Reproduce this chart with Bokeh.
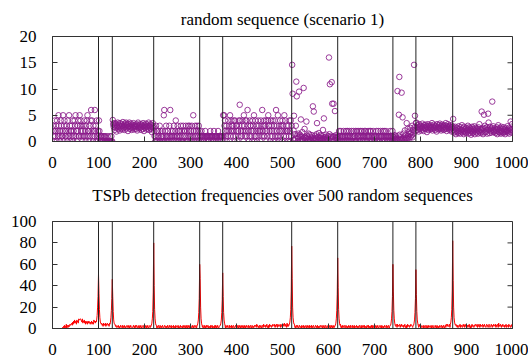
from bokeh.plotting import figure
from bokeh.layouts import column
from bokeh.models import FixedTicker, Span
from bokeh.embed import file_html
from bokeh.resources import INLINE

# ---------------- data ----------------
boundaries = [100, 130, 220, 320, 370, 520, 620, 740, 790, 870]

# top panel: symbol values per position (digits = integer values, pairs = tenths)
seg_001 = ("3120412304" "2153120431" "1250342112" "3041251302" "2314021435"
           "1202341153" "4213021341" "2031452120" "3146241032" "1623041021")
seg_101 = "420110101001100100010000100100"
seg_131 = ("41 33 28 35 22 30 26 34 19 31 27 36 24 29 32 21 35 28 25 33 "
           "30 23 37 26 31 28 22 34 29 36 25 32 27 20 33 29 36 24 30 27 "
           "34 22 31 28 26 35 23 30 27 32 29 24 33 21 30 36 26 28 31 25 "
           "33 27 22 32 29 24 35 28 20 31 26 30 34 23 28 32 25 29 36 22 "
           "30 27 33 24 31 18 28 35 26 29")
seg_221 = ("2101302012" "1030210120" "1560213010" "2103160121" "0213012401"
           "1302102130" "2013021203" "1020312310" "2130152013" "0213021302")
seg_321 = "11021110101211011010112101110120111011021101011110"
seg_371 = ("5153421302" "1423051243" "2314204132" "3021437412" "1342053214"
           "2416320143" "3120432501" "4213024132" "2043162314" "1324021453"
           "3201432140" "2341062315" "1032413204" "3215042132" "2031420413")
seg_521 = ("05 12 03 21 08 02 14 06 30 10 04 11 00 07 15 02 09 13 01 06 "
           "10 03 18 05 01 12 07 24 02 08 06 00 11 04 09 02 15 05 13 01 "
           "03 08 01 12 06 20 04 10 02 07 11 02 05 14 00 08 03 09 16 04 "
           "01 07 12 03 10 05 02 22 06 11 08 04 01 09 13 02 07 05 10 03 "
           "02 14 06 00 08 11 03 18 04 09 05 01 10 03 07 12 02 06 09 04")
seg_621 = ("1021012011" "0120110210" "2101201102" "1012011020" "0211021012"
           "1120101201" "2010121102" "1201012011" "0112010210" "1021101201"
           "2101210110" "1012011021")
seg_741 = ("03 08 01 12 05 00 10 06 02 09 04 11 07 01 13 03 08 05 18 02 "
           "10 06 15 03 09 21 04 12 07 16 05 24 11 08 19 06 14 26 09 17 "
           "12 30 08 22 15 10 27 13 20 35")
seg_791 = ("36 28 22 31 25 19 33 27 24 30 21 29 26 34 23 28 20 31 27 25 "
           "32 24 29 18 27 33 22 30 26 28 23 31 27 25 35 21 28 24 32 26 "
           "29 22 30 27 19 33 25 28 23 31 26 34 24 29 21 27 32 25 30 22 "
           "28 23 31 26 35 24 20 29 27 33 25 30 22 28 24 31 27 19 26 29")
seg_871 = ("43 22 17 25 19 28 14 21 26 18 23 16 29 20 24 15 27 19 22 31 "
           "17 25 21 14 28 20 18 24 16 26 22 19 30 15 23 27 17 21 25 13 "
           "20 28 16 24 18 22 29 14 26 19 23 17 25 21 15 27 20 33 18 24 "
           "16 22 28 19 24 14 26 21 17 30 25 18 21 27 15 23 19 36 22 16 "
           "28 20 24 17 26 13 22 29 18 21 19 25 16 23 20 27 14 24 31 18 "
           "22 17 26 20 15 28 21 18 24 16 27 19 23 14 25 18 22 20 29 17 "
           "21 26 15 24 19 38 22 17 33 25")

spike_x = [521, 522, 525, 530, 531, 536, 540, 546, 552, 566, 568, 575, 590,
           601, 603, 607, 608, 611, 614,
           750, 753, 754, 759, 761, 770, 786, 788,
           933, 938, 947, 956]
spike_y = [14.6, 9.1, 4.9, 11.4, 8.6, 9.5, 4.2, 10.2, 3.8, 6.7, 5.7, 3.5, 4.4,
           16.0, 10.9, 11.3, 7.2, 7.2, 5.8,
           9.6, 5.1, 12.3, 9.3, 4.6, 3.5, 14.6, 4.9,
           5.7, 5.1, 5.3, 7.6]

# bottom panel: detection frequency per position
freq_noise = (
    "00000000000000000000" "01021302140231322434" "45364758567486759889" "98769576857465746576" "54657465486757656789"
    "86543453425343524354" "34253435643524342312" "21312013212302131201" "23121302132101231203" "12310213021320123102"
    "21302132012312021302" "13212302132023102132" "01231202131023121302" "21302103122130201312" "12031213021302312031"
    "20131203212302130121" "31202132013021312302" "12032130212031302132" "01231202130213203121" "32103121302132012313"
    "21302312031213021302" "13212302132023102132" "32142312032132023142" "23132412031423213243" "32413243142323413242"
    "34253243152423434253" "23132412032132013212" "03121302123021312031" "21302132012312031202" "13212302132023102132"
    "21302312031213021342" "23132412031213201312" "02131203212302130121" "31202132013021312302" "12032130212031302132"
    "21302132012312031202" "13212302132023143242" "32413243142323413242" "23132412031423213243" "32132413231242314232"
    "31212302132013021312" "21302132012312031202" "13212302132023143242" "23413242312432134231" "32132413231242314232"
    "23132412031423213243" "32413243142323413242" "21342312431234213243" "32413243152324313242" "23132412321423213241"
)
peak_x = [100, 130, 220, 320, 370, 520, 620, 740, 790, 870]
peak_profiles = [
    [6, 8, 12, 20, 30, 51, 33, 18, 10, 6, 5],
    [4, 6, 10, 17, 28, 46, 30, 16, 8, 5, 4],
    [3, 5, 9, 16, 34, 80, 40, 18, 9, 5, 3],
    [3, 5, 8, 15, 28, 60, 47, 20, 9, 5, 3],
    [3, 5, 8, 15, 27, 52, 30, 15, 8, 5, 3],
    [4, 6, 10, 18, 35, 77, 47, 20, 10, 6, 4],
    [3, 5, 9, 17, 32, 66, 38, 18, 9, 5, 3],
    [3, 5, 9, 16, 30, 60, 35, 17, 9, 5, 3],
    [3, 5, 8, 15, 28, 55, 32, 16, 8, 5, 3],
    [4, 6, 10, 18, 36, 82, 45, 20, 10, 6, 4],
]

top_title = "random sequence (scenario 1)"
bot_title = "TSPb detection frequencies over 500 random sequences"
top_yticks = [0, 5, 10, 15, 20]
bot_yticks = [0, 20, 40, 60, 80, 100]
x_ticks = [0, 100, 200, 300, 400, 500, 600, 700, 800, 900, 1000]

# ---------------- build series ----------------
def digits(s):
    return [float(c) for c in s]

def tenths(s):
    return [int(t) / 10.0 for t in s.split()]

segments = [(1, digits(seg_001)), (101, digits(seg_101)), (131, tenths(seg_131)),
            (221, digits(seg_221)), (321, digits(seg_321)), (371, digits(seg_371)),
            (521, tenths(seg_521)), (621, digits(seg_621)), (741, tenths(seg_741)),
            (791, tenths(seg_791)), (871, tenths(seg_871))]
top = {}
for start, vals in segments:
    for i, v in enumerate(vals):
        top[start + i] = v
for sx, sy in zip(spike_x, spike_y):
    top[sx] = sy
top_x = sorted(top)
top_y = [top[k] for k in top_x]

freq = digits(freq_noise)
bot_x = list(range(1, len(freq) + 1))
bot_y = list(freq)
for c, prof in zip(peak_x, peak_profiles):
    for i, v in enumerate(prof):
        idx = c - 5 + i - 1
        if 0 <= idx < len(bot_y):
            bot_y[idx] = v

# ---------------- plotting ----------------
FONT = "Liberation Serif"
EDGE = "#333333"

def make(title, height, ymax, yticks, top_border, bottom_border, title_standoff):
    p = figure(width=528, height=height, x_range=(0, 1000), y_range=(0, ymax),
               output_backend="svg", toolbar_location=None,
               min_border_left=52, min_border_right=16,
               min_border_top=top_border, min_border_bottom=bottom_border,
               title=title)
    p.title.text_font = FONT
    p.title.text_font_size = "17px"
    p.title.text_font_style = "normal"
    p.title.align = "center"
    p.title.vertical_align = "top"
    p.title.text_color = "black"
    p.title.standoff = title_standoff
    p.xgrid.visible = False
    p.ygrid.visible = False
    p.outline_line_color = EDGE
    p.outline_line_width = 1
    p.xaxis.ticker = FixedTicker(ticks=x_ticks)
    p.yaxis.ticker = FixedTicker(ticks=yticks)
    for ax in (p.xaxis[0], p.yaxis[0]):
        ax.major_tick_in = 5
        ax.major_tick_out = 0
        ax.minor_tick_in = 0
        ax.minor_tick_out = 0
        ax.axis_line_color = EDGE
        ax.major_tick_line_color = EDGE
        ax.major_label_text_font = FONT
        ax.major_label_text_font_size = "17px"
        ax.major_label_text_color = "black"
    p.xaxis.major_label_standoff = 15
    p.yaxis.major_label_standoff = 16
    # mirrored y ticks on the right frame edge (half of each dash is clipped by the frame)
    p.scatter([1000] * len(yticks), yticks, marker="dash", size=10,
              line_color=EDGE, line_width=1)
    for b in boundaries:
        p.add_layout(Span(location=b, dimension="height", line_color="#222222", line_width=1))
    return p

p1 = make(top_title, 170, 20, top_yticks, 36, 26, 12)
p1.scatter(top_x, top_y, marker="circle", size=5.5, fill_color=None,
           line_color="#8a1a8a", line_width=1, line_alpha=0.85)

p2 = make(bot_title, 187, 100, bot_yticks, 49, 29, 30)
p2.line(bot_x, bot_y, line_color="#ff0000", line_width=1)

layout = column(p1, p2, spacing=0)
open("out.html", "w").write(file_html(layout, INLINE))
